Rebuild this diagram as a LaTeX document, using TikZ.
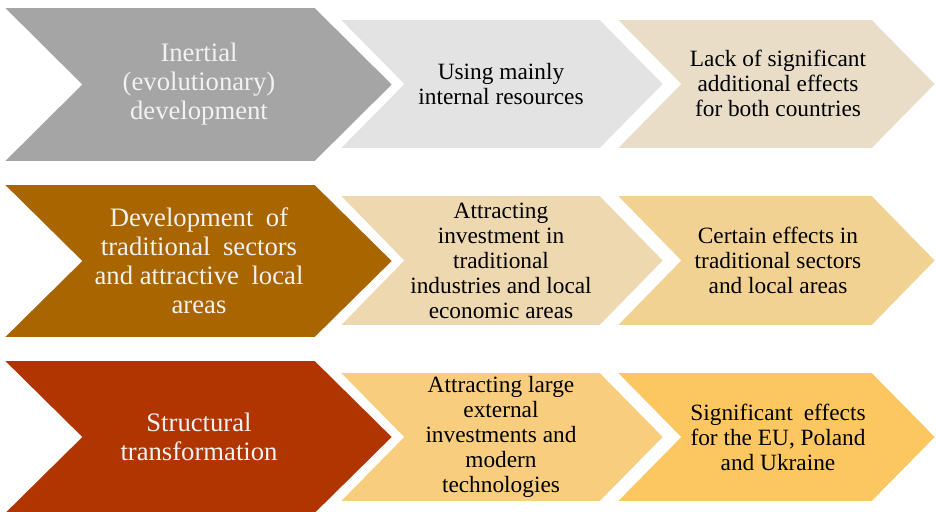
\documentclass[tikz,border=0pt]{standalone}
\usepackage{fontspec}
\setmainfont{Liberation Serif}
\definecolor{bigA}{HTML}{A5A5A5}
\definecolor{smA1}{HTML}{E3E3E3}
\definecolor{smA2}{HTML}{E9DDC8}
\definecolor{bigB}{HTML}{A86500}
\definecolor{smB1}{HTML}{EED8AF}
\definecolor{smB2}{HTML}{F2D293}
\definecolor{bigC}{HTML}{B13500}
\definecolor{smC1}{HTML}{F8CD7E}
\definecolor{smC2}{HTML}{FCC761}
\tikzset{
  chevbox/.style={draw=white, line width=1.2pt, line join=miter},
  bigtxt/.style={text=white!95!black, font=\fontsize{20}{21.75}\selectfont, align=center, inner sep=0pt},
  smalltxt/.style={text=black, font=\fontsize{17.5}{18.75}\selectfont, align=center, inner sep=0pt},
}
\newcommand\wsp{\ \hspace{0.22em}}
% left, top, bottom, depth, shoulder, colour
\newcommand\mychevron[6]{\path[chevbox,fill=#6] (#1,#2) -- (#5,#2) -- ({#5+#4},{(#2+#3)/2}) -- (#5,#3) -- (#1,#3) -- ({#1+#4},{(#2+#3)/2}) -- cycle;}
\begin{document}
\begin{tikzpicture}[x=0.75pt,y=-0.75pt]
\useasboundingbox (0,0) rectangle (936,511);
\clip (0,0) rectangle (936,511);
% row 1
\mychevron{3}{7}{162}{78}{315}{bigA}
\mychevron{339}{19}{149}{64}{600}{smA1}
\mychevron{616}{19}{149}{64}{872}{smA2}
\node[bigtxt] (a1) at (199,84.5) {Inertial\\(evolutionary)\\development};
\node[smalltxt] (a2) at (501,84.5) {Using mainly\\internal resources};
\node[smalltxt] (a3) at (778,83.5) {Lack of significant\\additional effects\\for both countries};
% row 2
\mychevron{3}{184}{338}{78}{315}{bigB}
\mychevron{339}{195}{326}{64}{600}{smB1}
\mychevron{616}{195}{326}{64}{872}{smB2}
\node[bigtxt] (b1) at (199,261) {Development\wsp of\\traditional\wsp sectors\\and attractive\wsp local\\areas};
\node[smalltxt] (b2) at (501,260.5) {Attracting\\investment in\\traditional\\industries and local\\economic areas};
\node[smalltxt] (b3) at (778,260.5) {Certain effects in\\traditional sectors\\and local areas};
% row 3
\mychevron{3}{360}{514}{78}{315}{bigC}
\mychevron{339}{372}{502}{64}{600}{smC1}
\mychevron{616}{372}{502}{64}{872}{smC2}
\node[bigtxt] (c1) at (199,437) {Structural\\transformation};
\node[smalltxt] (c2) at (501,437) {Attracting large\\external\\investments and\\modern\\technologies};
\node[smalltxt] (c3) at (778,437) {Significant\wsp effects\\for the EU, Poland\\and Ukraine};
\end{tikzpicture}
\end{document}
